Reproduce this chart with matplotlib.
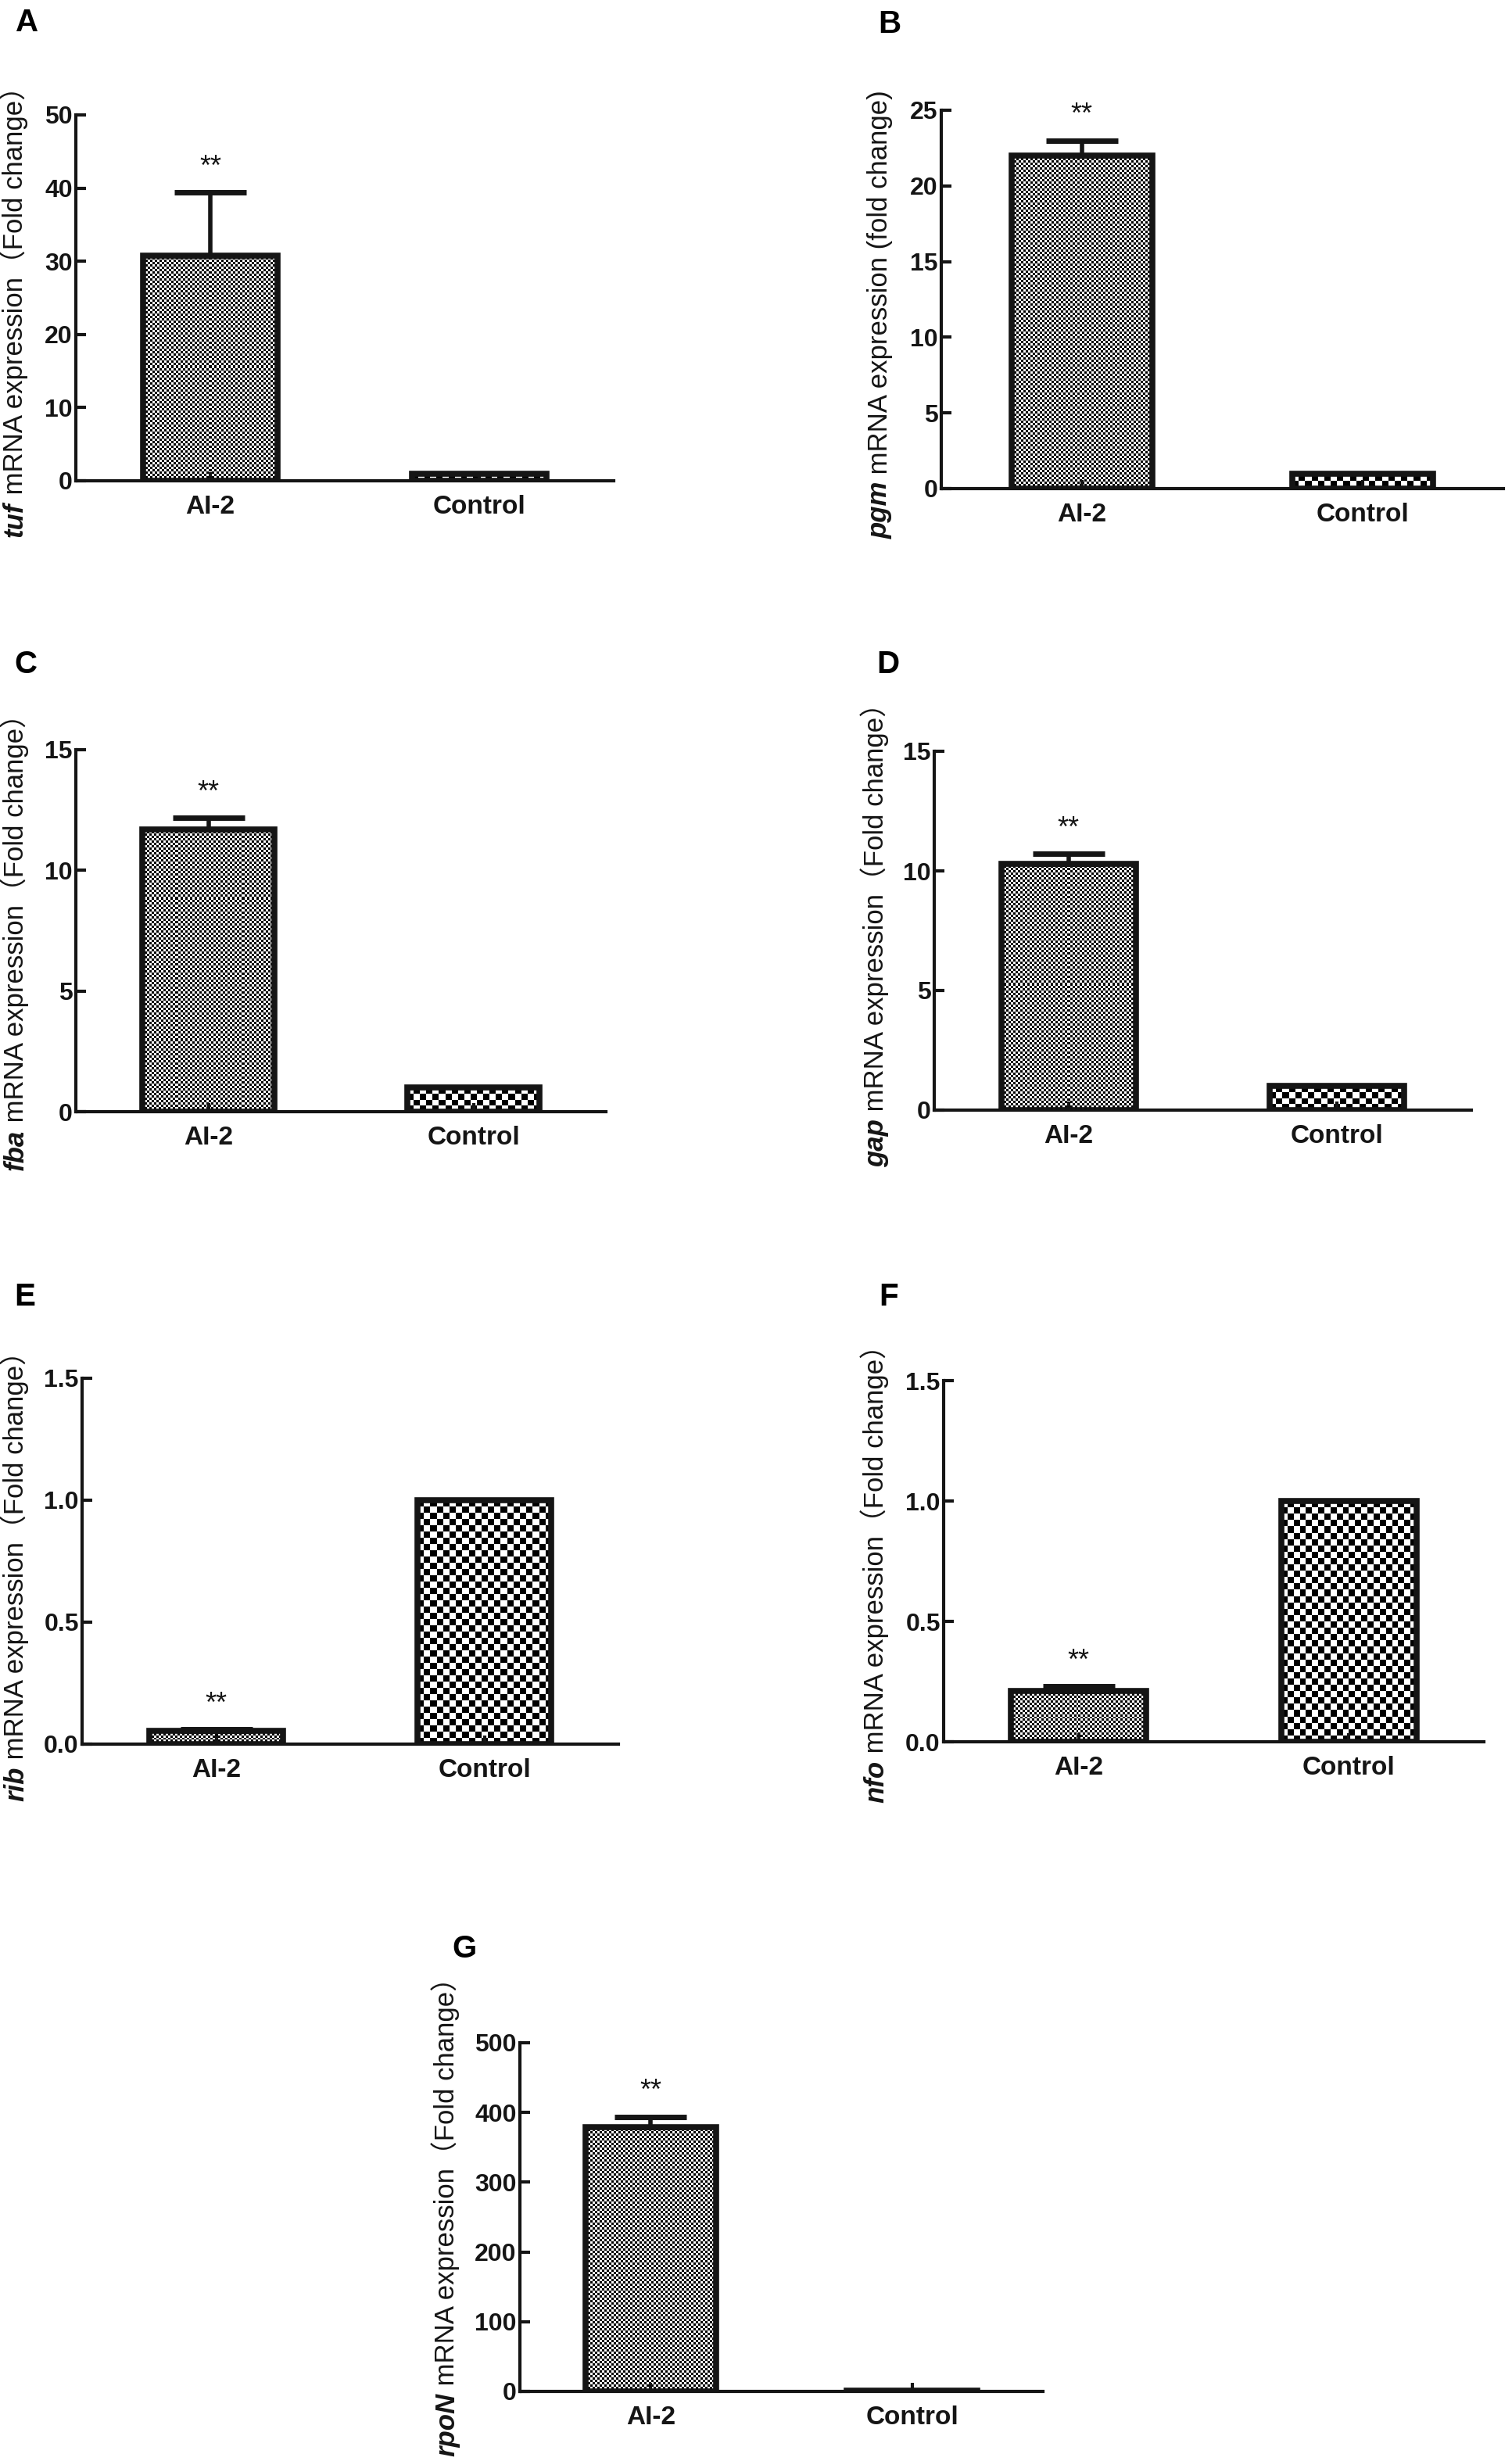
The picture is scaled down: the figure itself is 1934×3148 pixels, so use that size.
import numpy as np
import matplotlib
matplotlib.use('Agg')
import matplotlib.pyplot as plt
from matplotlib.ticker import FormatStrFormatter

plt.rcParams['font.family'] = ['Liberation Sans', 'Noto Sans CJK SC', 'DejaVu Sans']

# data
groups = ['AI-2', 'Control']
panels = ['A', 'B', 'C', 'D', 'E', 'F', 'G']
genes = ['tuf', 'pgm', 'fba', 'gap', 'rib', 'nfo', 'rpoN']
label_tails = [' mRNA expression（Fold change）',
               ' mRNA expression (fold change)',
               ' mRNA expression（Fold change）',
               ' mRNA expression（Fold change）',
               ' mRNA expression（Fold change）',
               ' mRNA expression（Fold change）',
               ' mRNA expression（Fold change）']
ai2_mean = [30.8, 22.0, 11.7, 10.3, 0.053, 0.21, 379]
ai2_err = [8.6, 1.0, 0.47, 0.41, 0.008, 0.019, 15]
ctrl_mean = [1.0, 1.0, 1.0, 1.0, 1.0, 1.0, 1.0]
y_max = [50, 25, 15, 15, 1.5, 1.5, 500]
y_step = [10, 5, 5, 5, 0.5, 0.5, 100]
y_fmt = ['%d', '%d', '%d', '%d', '%.1f', '%.1f', '%d']

# layout in pixels of the 1934x3148 canvas: axes (left, right, top, bottom)
W, H = 1934, 3148
axes_px = [(97, 785, 147, 615), (1204, 1923, 141, 625),
           (97, 775, 959, 1422), (1195, 1882, 961, 1420),
           (105, 791, 1763, 2231), (1207, 1898, 1766, 2228),
           (665, 1334, 2613, 3059)]
letter_px = [(20, 10), (1123, 12), (18, 831), (1121, 831),
             (18, 1640), (1124, 1640), (578, 2474)]
ylabel_px = [(29, 687), (1135, 689), (30, 1497), (1130, 1493),
             (30, 2304), (1130, 2306), (581, 3142)]

INK = '#151515'
FINE, COARSE = 3, 8
LABEL_SIZE = 25


def checker_fill(ax, bar, cell):
    x0, y0 = bar.get_x(), bar.get_y()
    w, h = bar.get_width(), bar.get_height()
    (px0, py0), (px1, py1) = ax.transData.transform([(x0, y0), (x0 + w, y0 + h)])
    nx = max(1, int(round(abs(px1 - px0) / cell)))
    ny = max(1, int(round(abs(py1 - py0) / cell)))
    board = np.indices((ny, nx)).sum(axis=0) % 2
    im = ax.imshow(board, cmap='gray', vmin=0, vmax=1, origin='lower',
                   extent=(x0, x0 + w, y0, y0 + h), interpolation='nearest',
                   aspect='auto', zorder=1)
    im.set_clip_path(bar)


fig = plt.figure(figsize=(W / 100, H / 100), dpi=100)

gene_texts = []
for i in range(len(panels)):
    l, r, t, b = axes_px[i]
    ax = fig.add_axes([l / W, 1 - b / H, (r - l) / W, (b - t) / H])
    ax.set_xlim(-0.5, 1.5)
    ax.set_ylim(0, y_max[i])

    bars = ax.bar([0, 1], [ai2_mean[i], ctrl_mean[i]], width=0.5,
                  facecolor='none', edgecolor=INK, linewidth=5.5, zorder=2)
    checker_fill(ax, bars[0], FINE)
    checker_fill(ax, bars[1], COARSE)
    ax.set_xlim(-0.5, 1.5)
    ax.set_ylim(0, y_max[i])

    ax.errorbar(0, ai2_mean[i], yerr=[[0], [ai2_err[i]]], fmt='none',
                ecolor=INK, elinewidth=4, capsize=33, capthick=5, zorder=3)
    ax.annotate('**', xy=(0, ai2_mean[i] + ai2_err[i]), xytext=(0, 23),
                textcoords='offset points', ha='center', va='center',
                fontsize=26, color=INK)

    for s in ['top', 'right']:
        ax.spines[s].set_visible(False)
    for s in ['left', 'bottom']:
        ax.spines[s].set_linewidth(3)
        ax.spines[s].set_color(INK)

    yt = np.arange(0, y_max[i] + y_step[i] / 2, y_step[i])
    ax.set_yticks(yt)
    ax.yaxis.set_major_formatter(FormatStrFormatter(y_fmt[i]))
    ax.set_xticks([0, 1])
    ax.set_xticklabels(groups)
    ax.tick_params(axis='y', direction='in', length=9.5, width=3, pad=3,
                   labelsize=23, color=INK)
    ax.tick_params(axis='x', direction='in', length=8, width=3, pad=13,
                   labelsize=24, color=INK)
    for lbl in ax.get_xticklabels() + ax.get_yticklabels():
        lbl.set_fontweight('bold')
        lbl.set_color(INK)

    lx, ly = letter_px[i]
    fig.text(lx / W, 1 - ly / H, panels[i], fontsize=29, fontweight='bold',
             ha='left', va='top', color='black')

    gx, gy = ylabel_px[i]
    gt = fig.text(gx / W, 1 - gy / H, genes[i], rotation=90, rotation_mode='anchor',
                  ha='left', va='baseline', fontsize=LABEL_SIZE, fontstyle='italic',
                  fontweight='bold', color=INK)
    gene_texts.append(gt)

# tails of the y labels go right after the italic gene names
fig.canvas.draw()
renderer = fig.canvas.get_renderer()
for i, gt in enumerate(gene_texts):
    bb = gt.get_window_extent(renderer)
    gx, gy = ylabel_px[i]
    fig.text(gx / W, bb.y1 / H, label_tails[i], rotation=90, rotation_mode='anchor',
             ha='left', va='baseline', fontsize=LABEL_SIZE, color=INK)

fig.savefig('out.png', dpi=100, facecolor='white')
